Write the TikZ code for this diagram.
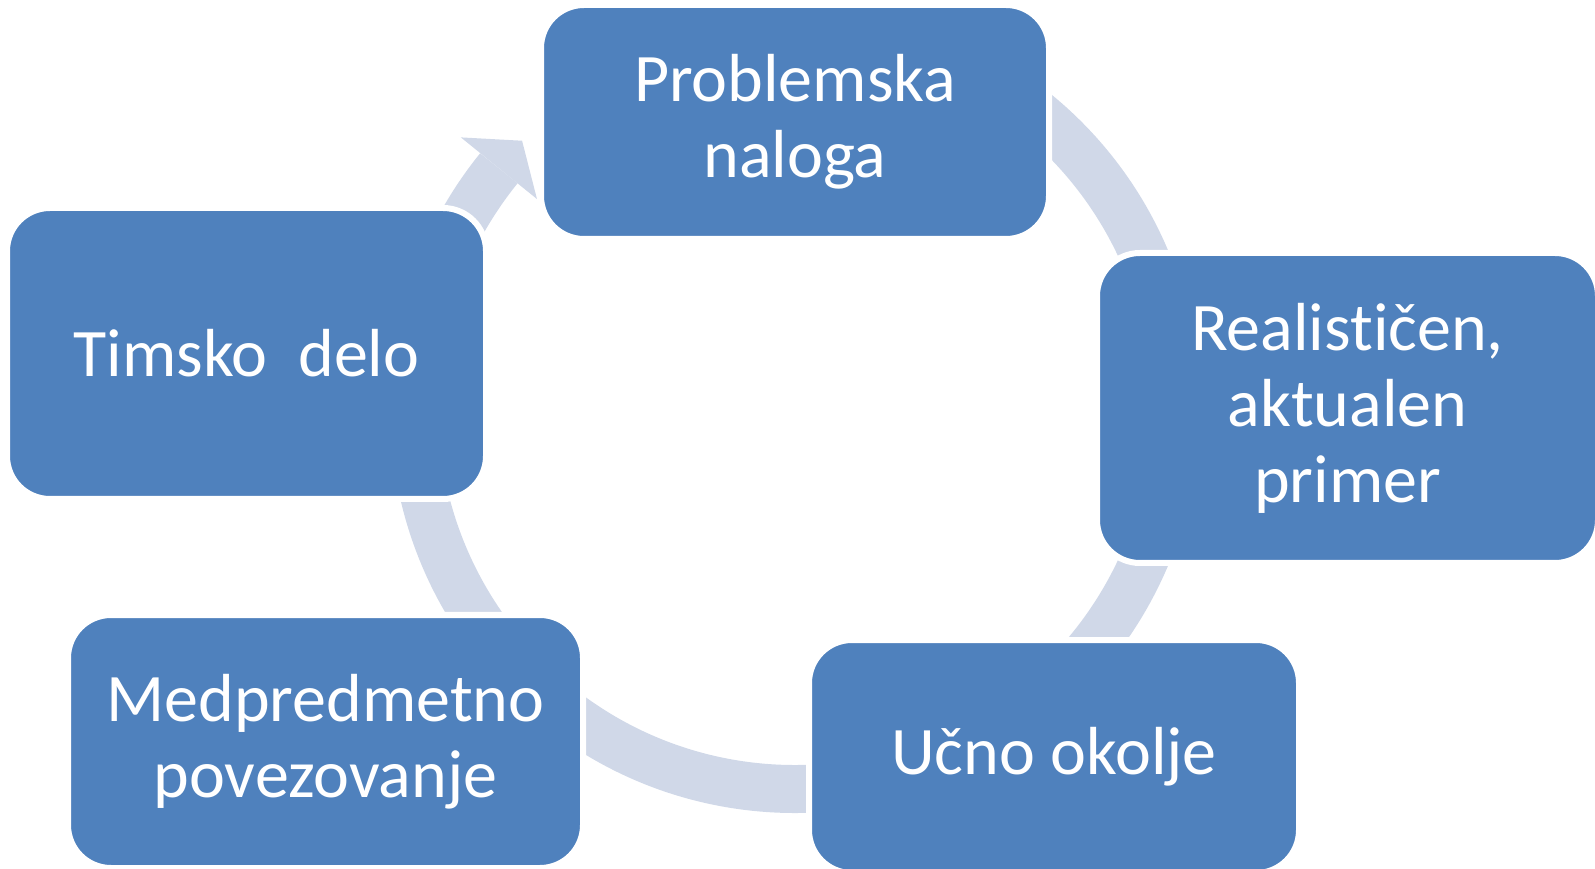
\documentclass[tikz,border=0pt]{standalone}
\usepackage{fontspec}
\setmainfont{Carlito}[RawFeature={-liga;-clig;-calt}]
\usetikzlibrary{positioning}
\definecolor{boxColor}{RGB}{79,129,189}
\definecolor{ringColor}{RGB}{208,216,232}
\tikzset{
  cyclebox/.style={rectangle, rounded corners=43pt, fill=boxColor, draw=white, line width=6pt,
    text=white, align=center, inner sep=0pt, font=\fontsize{68}{76}\selectfont},
  ring/.style={draw=ringColor, line width=48pt}
}

\begin{document}
\begin{tikzpicture}[x=1pt,y=1pt]
    \useasboundingbox (0,0) rectangle (1595,868);
    \coordinate (center) at (795,460);

    \draw[ring] ([shift={(141:381pt)}]center) arc[start angle=141, end angle=420, radius=381pt];
    \fill[ringColor] ([shift={(141:430pt)}]center) -- ([shift={(135.6:382pt)}]center)
        -- ([shift={(141:332pt)}]center) -- cycle;

    \node[cyclebox, minimum width=508pt, minimum height=234pt] (problem) at (795,746) {Problemska\\naloga};
    \node[cyclebox, minimum width=501pt, minimum height=310pt] (realistic) at (1347.5,460) {Realisti\kern0ptčen,\\aktualen\\primer};
    \node[cyclebox, minimum width=490pt, minimum height=233pt] (learning) at (1054,111.5) {Učno okolje};
    \node[cyclebox, minimum width=515pt, minimum height=253pt] (crosssubject) at (325.5,126.5) {Medpredmetno\\povezovanje};
    \node[cyclebox, minimum width=479pt, minimum height=291pt] (teamwork) at (246.5,514.5) {Timsko\ \ delo};

  \end{tikzpicture}
\end{document}
